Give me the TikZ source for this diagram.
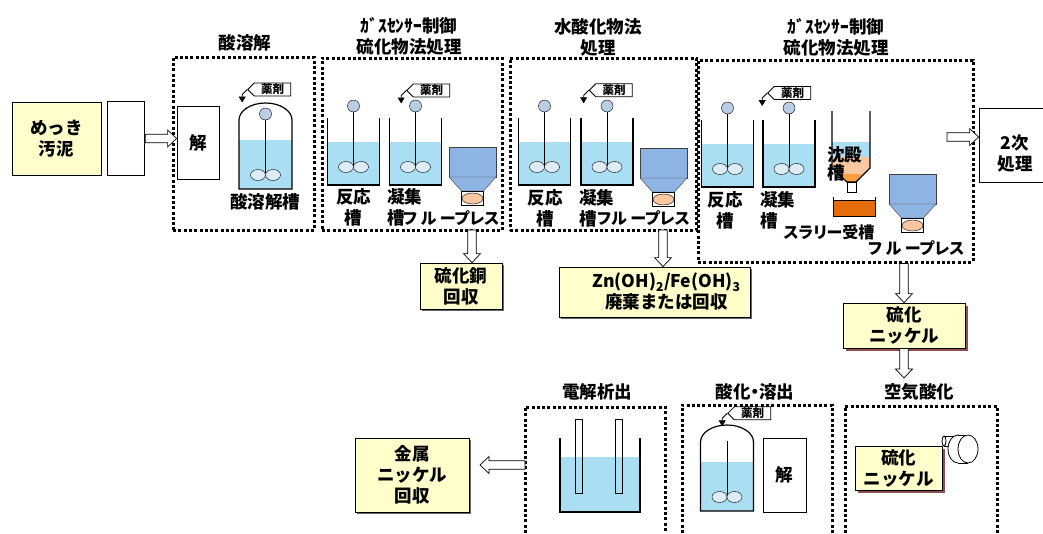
\documentclass[tikz,border=0pt]{standalone}
\usepackage{fontspec}
\setmainfont{Noto Sans CJK JP}
\usepackage{tikz}
\usetikzlibrary{positioning, arrows.meta, calc, shapes.symbols, shadows}

\definecolor{paleyellow}{RGB}{255,255,204}
\definecolor{liquid}{RGB}{170,222,242}
\definecolor{impeller}{RGB}{222,236,246}
\definecolor{knob}{RGB}{185,205,229}
\definecolor{hopper}{RGB}{142,180,227}
\definecolor{cake}{RGB}{250,200,160}
\definecolor{slurry}{RGB}{228,108,10}
\definecolor{shadowbrown}{RGB}{140,80,80}

% proportional kana for the tight labels
\newcommand{\narrow}{\addfontfeature{RawFeature=+palt}}

% hollow block arrow from #1 to #2
\newcommand{\hollowarrow}[2]{%
  \coordinate (ha) at (#1);
  \coordinate (hb) at (#2);
  \coordinate (hm) at ($(hb)!9pt!(ha)$);
  \draw[fill=white, line width=0.7pt]
    ($(ha)!4.2pt!90:(hb)$) -- ($(hm)!4.2pt!-90:(ha)$) -- ($(hm)!8.5pt!-90:(ha)$)
    -- (hb) -- ($(hm)!8.5pt!90:(ha)$) -- ($(hm)!4.2pt!90:(ha)$)
    -- ($(ha)!4.2pt!-90:(hb)$) -- cycle;}

\begin{document}
\begin{tikzpicture}[
    x=1pt, y=-1pt,
    every node/.style={font=\bfseries\fontsize{17.5}{21}\selectfont},
    frame/.style={draw, line width=3pt, dash pattern=on 3pt off 2.3pt, inner sep=0pt},
    lbl/.style={align=center, inner sep=0pt},
    small lbl/.style={lbl, font=\bfseries\fontsize{16}{21}\selectfont\narrow},
    box/.style={draw, fill=white, line width=0.8pt, inner sep=0pt, align=center},
    result/.style={box, fill=paleyellow, drop shadow={shadow xshift=1.5pt, shadow yshift=-1.5pt, fill=black!60, opacity=1}},
    nickel/.style={box, fill=paleyellow, drop shadow={shadow xshift=2.5pt, shadow yshift=-2.5pt, fill=shadowbrown, opacity=1}},
    tag/.style={signal, signal to=west, draw, fill=white, line width=0.8pt,
        font=\bfseries\fontsize{11.5}{10}\selectfont, minimum width=43pt, minimum height=13pt, inner sep=1pt},
    feed/.style={-{Triangle[length=6pt,width=7pt]}, line width=0.8pt},
    wall/.style={line width=1.2pt},
    mixtank/.pic={
        \fill[liquid] (-26,24) rectangle (26,67);
        \draw[wall] (-26,0) -- (-26,67) -- (26,67) -- (26,0);
        \draw[line width=0.9pt] (0,-6) -- (0,48);
        \draw[fill=impeller] (-7.5,49) ellipse [x radius=7.5, y radius=5.5];
        \draw[fill=impeller] (7.5,49) ellipse [x radius=7.5, y radius=5.5];
        \draw[fill=knob] (0,-12) circle [radius=6];
    },
    dometank/.pic={
        \fill[liquid] (-26.5,20) rectangle (26.5,69);
        \draw[wall] (-26.5,69) -- (-26.5,0) .. controls (-26.5,-9.4) and (-14.6,-17) .. (0,-17)
            .. controls (14.6,-17) and (26.5,-9.4) .. (26.5,0) -- (26.5,69) -- cycle;
        \draw[line width=0.9pt] (0,-1) -- (0,53);
        \draw[fill=impeller] (-7.5,55) ellipse [x radius=7.5, y radius=5.5];
        \draw[fill=impeller] (7.5,55) ellipse [x radius=7.5, y radius=5.5];
    },
    press/.pic={
        \draw[draw=black!75, fill=hopper] (-23.5,0) rectangle (23.5,30);
        \draw[draw=black!75, fill=hopper] (-23.5,30) -- (23.5,30) -- (11,44) -- (-11,44) -- cycle;
        \draw (-11,44) rectangle (11,58);
        \draw[fill=cake] (0,51.5) ellipse [x radius=10.5, y radius=5.5];
    }
]
\useasboundingbox (0,0) rectangle (1043,533);
\fill[white] (0,0) rectangle (1043,533);

% feed and acid dissolution
\node (sludge) [box, fill=paleyellow, minimum width=89pt, minimum height=73pt] at (56.5,138.5) {めっき\\汚泥};
\node (blank) [box, minimum width=37pt, minimum height=74pt, right=6pt of sludge] {};
\node (acid) [frame, minimum width=141pt, minimum height=173pt] at (243.5,143.5) {};
\node (acid title) [lbl] at (245,43) {酸溶解};
\node (kai1) [box, minimum width=42pt, minimum height=73pt] at (198,142.5) {解};
\pic at (265.5,120) {dometank};
\draw[fill=knob] (265.5,114) circle [radius=6];
\node (acid tank) [lbl] at (265,202) {酸溶解槽};
\node (tag1) [tag] at (272.5,89.5) {薬剤};
\draw[feed] (tag1.west) -- ++(-5,5) -- ++(0,8);
\hollowarrow{blank.east}{blank.east -| kai1.west}

% sulfide treatment 1
\node (sulf1) [frame, minimum width=180pt, minimum height=172pt] at (412,144) {};
\node (sulf1 title) [lbl] at (409,36) {ｶﾞｽｾﾝｻｰ制御\\硫化物法処理};
\pic at (353.5,118) {mixtank};
\pic at (415.5,118) {mixtank};
\pic at (472.5,147) {press};
\node (tag2) [tag] at (431.5,90.5) {薬剤};
\draw[feed] (tag2.west) -- ++(-5,5) -- ++(0,8);
\node (react1) [lbl] at (353.5,207.5) {反応\\槽};
\node (floc1) [lbl, align=left, anchor=west] at (387,207.5) {凝集\\槽};
\node (fp1) [small lbl, anchor=west] at (403,218) {フ ル ープレス};

% hydroxide treatment
\node (hydro) [frame, minimum width=186pt, minimum height=172pt] at (603,144) {};
\node (hydro title) [lbl] at (598,37.5) {水酸化物法\\処理};
\pic at (544.5,118) {mixtank};
\pic at (607,118) {mixtank};
\pic at (663.5,148) {press};
\node (tag3) [tag] at (614,90.3) {薬剤};
\draw[feed] (tag3.west) -- ++(-5,5) -- ++(0,8);
\node (react2) [lbl] at (545,208) {反応\\槽};
\node (floc2) [lbl, align=left, anchor=west] at (579,208) {凝集\\槽};
\node (fp2) [small lbl, anchor=west] at (597,218) {フル ープレス};

% sulfide treatment 2
\node (sulf2) [frame, minimum width=275pt, minimum height=202pt] at (835.5,161) {};
\node (sulf2 title) [lbl] at (836,37.5) {ｶﾞｽｾﾝｻｰ制御\\硫化物法処理};
\pic at (727.5,120) {mixtank};
\pic at (789,120) {mixtank};
\node (tag4) [tag] at (792.5,93) {薬剤};
\draw[feed] (tag4.west) -- ++(-5,5) -- ++(0,8);
% settling tank
\fill[liquid] (832,142) rectangle (870,157);
\fill[cake] (832,157) -- (870,157) -- (870,168) -- (856,182) -- (847,182) -- (832,168) -- cycle;
\fill[orange!75] (838,174) -- (862,174) -- (856,182) -- (847,182) -- cycle;
\draw[wall] (832,111) -- (832,168) -- (847,182) -- (856,182) -- (870,168) -- (870,111);
\draw[line width=0.8pt] (847,182) rectangle (856,192);
% slurry receiver
\draw[line width=0.8pt, fill=slurry] (833,200) rectangle (875,216);
\draw[line width=0.8pt] (833,200) -- (833,197) (875,200) -- (875,197);
\pic at (912.5,174) {press};
\node (react3) [lbl] at (725,210) {反応\\槽};
\node (floc3) [lbl, align=left, anchor=west] at (760,210) {凝集\\槽};
\node (settle) [lbl, align=left, anchor=west] at (827,164) {沈殿\\[-3pt]槽};
\node (slurry lbl) [small lbl] at (829,232) {スラリー受槽};
\node (fp3) [small lbl, anchor=west] at (868,248) {フ ル ープレス};

% secondary treatment
\node (second) [box, minimum width=72pt, minimum height=74pt] at (1015,145) {};
\node (second lbl) [lbl] at (1015,153) {2次\\処理};
\coordinate (sulf2 out) at (947,137);
\hollowarrow{sulf2 out}{sulf2 out -| second.west}

% recovered products
\node (cus) [result, minimum width=82pt, minimum height=46pt] at (461,286) {硫化銅\\回収};
\node (zn) [result, minimum width=191pt, minimum height=50pt] at (654.5,292) {\hspace*{24pt}Zn(OH)\textsubscript{2}/Fe(OH)\textsubscript{3}\\\hspace*{24pt}廃棄または回収};
\node (nis1) [nickel, minimum width=122pt, minimum height=45pt] at (904,325.5) {硫化\\ニッケル};
\coordinate (sulf1 out) at (472,230);
\hollowarrow{sulf1 out}{sulf1 out |- cus.north}
\coordinate (hydro out) at (663,230);
\hollowarrow{hydro out}{hydro out |- zn.north}
\hollowarrow{sulf2.south -| nis1.north}{nis1.north}
\coordinate (air in) at (904,378);
\hollowarrow{nis1.south}{air in}

% electrowinning
\node (elec title) [lbl] at (597,392) {電解析出};
\draw[frame] (525,533) -- (525,407) -- (665,407) -- (665,533);
\fill[liquid] (560,457) rectangle (640,512);
\draw[wall] (560,438) -- (560,512) -- (640,512) -- (640,438);
\draw[line width=0.8pt] (575,419) rectangle (582,493);
\draw[line width=0.8pt] (615,419) rectangle (622,493);
\node (metal) [result, minimum width=114pt, minimum height=74pt] at (412,475) {金属\\ニッケル\\回収};
\coordinate (elec out) at (525,465);
\coordinate (metal in) at (480,465);
\hollowarrow{elec out}{metal in}

% oxidation and leaching
\node (ox title) [lbl, font=\bfseries\fontsize{17.5}{21}\selectfont\narrow] at (755,392) {酸化・溶出};
\draw[frame] (682,533) -- (682,405) -- (832,405) -- (832,533);
\pic at (727,442) {dometank};
\node (kai2) [box, minimum width=43pt, minimum height=74pt] at (784.5,475) {解};
\node (tag5) [tag] at (752.5,413.3) {薬剤};
\draw[feed] (tag5.west) -- ++(-5,5) -- ++(0,8);

% air oxidation
\node (air title) [lbl] at (919,392) {空気酸化};
\draw[frame] (845,533) -- (845,406) -- (997,406) -- (997,533);
\node (nis2) [nickel, minimum width=87pt, minimum height=44pt] at (898.5,468) {硫化\\ニッケル};
\draw[fill=white, line width=0.8pt] (944,436) rectangle (956,446);
\draw[fill=white, line width=0.8pt] (944,441) ellipse [x radius=2, y radius=5];
\draw[fill=white, line width=0.8pt] (958,449) ellipse [x radius=10, y radius=14];
\fill[white] (958,435) rectangle (968,463);
\draw[line width=0.8pt] (958,435) -- (968,435) (958,463) -- (968,463);
\draw[fill=white, line width=0.8pt] (968,449) ellipse [x radius=10, y radius=14];
\end{tikzpicture}
\end{document}
